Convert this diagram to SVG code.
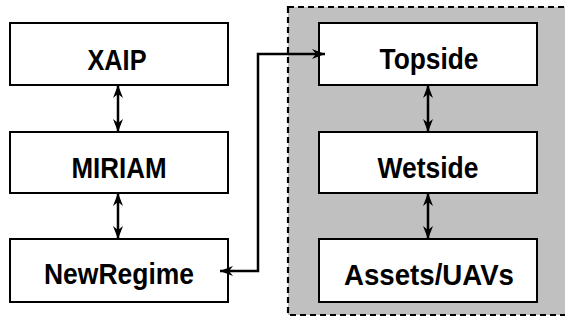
<svg xmlns="http://www.w3.org/2000/svg" width="565" height="323" viewBox="0 0 565 323">
<defs>
<style>
.box{fill:#fff;stroke:#000;stroke-width:2}
.lbl{font-family:"Liberation Sans",Arial,sans-serif;font-weight:bold;font-size:29px;text-anchor:middle;fill:#000}
.con{fill:none;stroke:#000;stroke-width:2.5}
</style>
<marker id="ah" viewBox="0 0 13 10" refX="13" refY="5" markerWidth="13" markerHeight="10" markerUnits="userSpaceOnUse" orient="auto-start-reverse">
<path d="M0,0 L13,5 L0,10 L4,5 Z" fill="#000"/>
</marker>
</defs>
<rect id="group" x="288" y="7" width="290" height="308" fill="#c0c0c0" stroke="#000" stroke-width="2.2" stroke-dasharray="6,4"/>
<g id="xaip"><rect class="box" x="10" y="23" width="218" height="62"/><text class="lbl" x="117" y="69.5" textLength="59" lengthAdjust="spacingAndGlyphs">XAIP</text></g>
<g id="miriam"><rect class="box" x="10" y="132" width="218" height="61"/><text class="lbl" x="119" y="178" textLength="95" lengthAdjust="spacingAndGlyphs">MIRIAM</text></g>
<g id="newregime"><rect class="box" x="10" y="239" width="218" height="63"/><text class="lbl" x="119" y="284" textLength="150" lengthAdjust="spacingAndGlyphs">NewRegime</text></g>
<g id="topside"><rect class="box" x="319" y="23" width="218" height="62"/><text class="lbl" x="429" y="69" textLength="99" lengthAdjust="spacingAndGlyphs">Topside</text></g>
<g id="wetside"><rect class="box" x="319" y="132" width="218" height="61"/><text class="lbl" x="428" y="177.5" textLength="101" lengthAdjust="spacingAndGlyphs">Wetside</text></g>
<g id="assets"><rect class="box" x="319" y="239" width="218" height="63"/><text class="lbl" x="429" y="284.5" textLength="170" lengthAdjust="spacingAndGlyphs">Assets/UAVs</text></g>
<g id="connectors">
<path class="con" d="M118,85 L118,132" marker-start="url(#ah)" marker-end="url(#ah)"/>
<path class="con" d="M118,193 L118,239" marker-start="url(#ah)" marker-end="url(#ah)"/>
<path class="con" d="M428,85 L428,132" marker-start="url(#ah)" marker-end="url(#ah)"/>
<path class="con" d="M428,193 L428,239" marker-start="url(#ah)" marker-end="url(#ah)"/>
<path class="con" d="M220,271 L258,271 L258,54 L325,54" marker-start="url(#ah)" marker-end="url(#ah)"/>
</g>
</svg>
